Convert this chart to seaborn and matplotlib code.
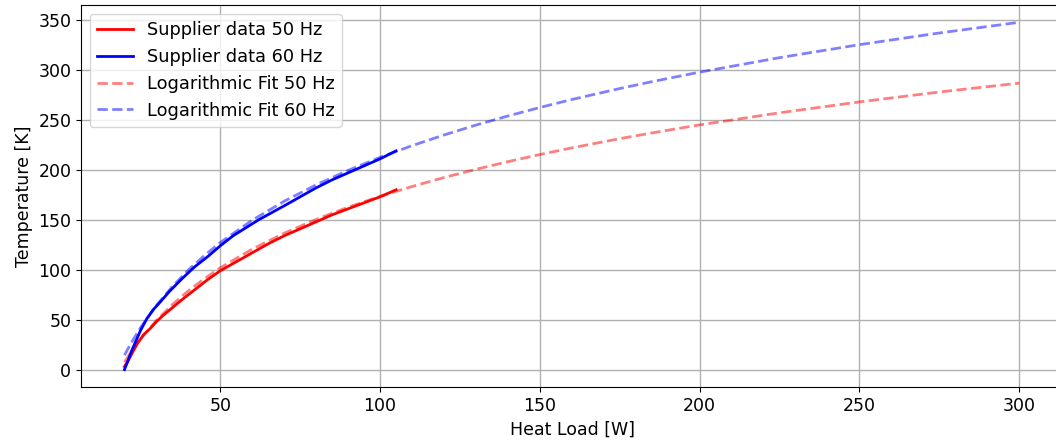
import matplotlib
matplotlib.use("Agg")
import matplotlib.pyplot as plt
import pandas as pd
import seaborn as sns

# Supplier performance data: heat load [W] vs. temperature [K]
load_50hz = [20, 21, 22.5, 24, 26, 28, 30, 32, 35, 38, 42, 46, 50, 55, 60,
             65, 70, 75, 80, 85, 90, 95, 100, 105]
temp_50hz = [3, 8, 17, 26, 35, 41, 48, 54, 62, 70, 80, 90, 99, 108, 117,
             126, 134, 141, 148, 155, 161, 167, 173, 180]

load_60hz = [20, 21, 22, 23.5, 25, 27, 29, 31, 34, 38, 42, 46, 50, 54, 58,
             62, 66, 70, 75, 80, 85, 90, 95, 100, 105]
temp_60hz = [0, 8, 17, 28, 39, 51, 60, 67, 78, 91, 103, 113, 124, 134, 142,
             150, 157, 164, 173, 182, 190, 197, 204, 211, 219]

# Logarithmic fit curves, sampled over the extended load range
fit_load = [20, 22, 25, 30, 35, 40, 45, 50, 60, 70, 80, 90, 100, 110, 120,
            130, 140, 150, 160, 175, 185, 200, 225, 250, 275, 300]
fit_temp_50hz = [7.4, 17.2, 30.4, 49.2, 65.1, 78.9, 91.0, 101.9, 120.7,
                 136.6, 150.4, 162.6, 173.5, 183.3, 192.3, 200.5, 208.2,
                 215.3, 222.0, 231.2, 236.9, 245.0, 257.1, 268.0, 277.9,
                 286.8]
fit_temp_60hz = [14.4, 26.1, 41.8, 64.3, 83.3, 99.7, 114.2, 127.2, 149.6,
                 168.6, 185.0, 199.5, 212.5, 224.2, 234.9, 244.8, 253.9,
                 262.4, 270.4, 281.4, 288.2, 297.8, 312.3, 325.3, 337.0,
                 347.7]

plt.rcParams["font.family"] = ["DejaVu Sans"]
plt.rcParams["font.size"] = 12.5

fig = plt.figure(figsize=(10.56, 4.44), dpi=100)
ax = fig.add_axes([81 / 1056, 57 / 444, 983 / 1056, 382 / 444])

sup50 = pd.DataFrame({"load": load_50hz, "temp": temp_50hz})
sup60 = pd.DataFrame({"load": load_60hz, "temp": temp_60hz})
fit50 = pd.DataFrame({"load": fit_load, "temp": fit_temp_50hz})
fit60 = pd.DataFrame({"load": fit_load, "temp": fit_temp_60hz})

sns.lineplot(data=sup50, x="load", y="temp", ax=ax, color="red",
             linewidth=2, label="Supplier data 50 Hz", zorder=3)
sns.lineplot(data=sup60, x="load", y="temp", ax=ax, color="blue",
             linewidth=2, label="Supplier data 60 Hz", zorder=3)
sns.lineplot(data=fit50, x="load", y="temp", ax=ax, color="red",
             linewidth=2, linestyle="--", alpha=0.5,
             label="Logarithmic Fit 50 Hz", zorder=2)
sns.lineplot(data=fit60, x="load", y="temp", ax=ax, color="blue",
             linewidth=2, linestyle="--", alpha=0.5,
             label="Logarithmic Fit 60 Hz", zorder=2)

ax.set_xlim(6.4, 314)
ax.set_ylim(-17.4, 365)
ax.set_xticks([50, 100, 150, 200, 250, 300])
ax.set_yticks([0, 50, 100, 150, 200, 250, 300, 350])
ax.grid(True, color="#b0b0b0", linewidth=1.0)
ax.set_axisbelow(True)
ax.set_xlabel("Heat Load [W]")
ax.set_ylabel("Temperature [K]")
ax.legend(loc="upper left", fontsize=12.8)

fig.savefig("out.png", dpi=100)
